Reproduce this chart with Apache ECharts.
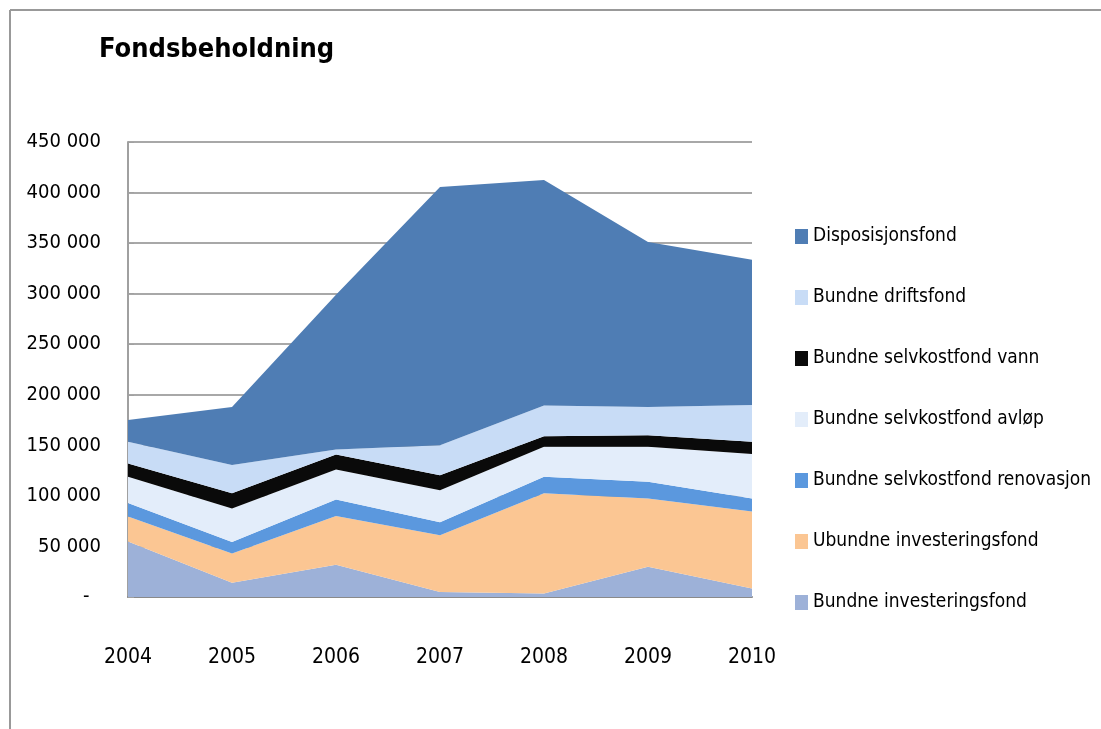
<!DOCTYPE html>
<html>
<head>
<meta charset="utf-8">
<script src="https://cdn.jsdelivr.net/npm/echarts@6/dist/echarts.min.js"></script>
<style>
  html, body { margin: 0; padding: 0; background: #fff; }
  #main { width: 1101px; height: 729px; }
</style>
</head>
<body>
<div id="main"></div>
<script>
var years = ['2004', '2005', '2006', '2007', '2008', '2009', '2010'];
var yTicks = [0, 50000, 100000, 150000, 200000, 250000, 300000, 350000, 400000, 450000];
// stacked from bottom to top
var bundneInvest = [55000, 14000, 32000, 5000, 3500, 30000, 8500];
var ubundneInvest = [24500, 29000, 48000, 56000, 99000, 67500, 76000];
var renovasjon = [13500, 11500, 16500, 13000, 16500, 16500, 13000];
var avlop = [26000, 33000, 29500, 31500, 29500, 34500, 44000];
var vann = [13000, 15000, 15000, 15000, 10500, 11500, 12000];
var drifts = [21500, 28000, 5000, 29500, 30500, 28000, 36500];
var dispo = [21500, 57500, 153000, 255500, 223000, 163000, 143500];

var FONT = '"Liberation Sans Narrow", "DejaVu Sans Condensed", "Noto Sans", sans-serif';

var chart = echarts.init(document.getElementById('main'));

function area(name, data, color) {
  return {
    name: name,
    type: 'line',
    stack: 'total',
    data: data,
    showSymbol: false,
    symbol: 'none',
    lineStyle: { width: 0, color: color },
    itemStyle: { color: color },
    areaStyle: { color: color, opacity: 1 },
    emphasis: { disabled: true }
  };
}

var option = {
  animation: false,
  backgroundColor: '#fff',
  title: {
    text: 'Fondsbeholdning',
    left: 94,
    top: 31,
    textStyle: { fontFamily: FONT, fontSize: 27, fontWeight: 'bold', color: '#000' }
  },
  graphic: [
    { type: 'line', shape: { x1: 10, y1: 10, x2: 1101, y2: 10 }, style: { stroke: '#999', lineWidth: 2 } },
    { type: 'line', shape: { x1: 10, y1: 10, x2: 10, y2: 729 }, style: { stroke: '#999', lineWidth: 2 } }
  ],
  legend: {
    orient: 'vertical',
    left: 790,
    top: 222,
    itemWidth: 13,
    itemHeight: 15,
    itemGap: 42,
    icon: 'rect',
    textStyle: { fontFamily: FONT, fontSize: 19, color: '#000' },
    data: ['Disposisjonsfond', 'Bundne driftsfond', 'Bundne selvkostfond vann',
      'Bundne selvkostfond avløp', 'Bundne selvkostfond renovasjon',
      'Ubundne investeringsfond', 'Bundne investeringsfond']
  },
  grid: { left: 128, right: 349, top: 142, bottom: 132, containLabel: false },
  xAxis: {
    type: 'category',
    data: years,
    boundaryGap: false,
    axisLine: { lineStyle: { color: '#8a8a8a', width: 2 } },
    axisTick: { show: false },
    axisLabel: { fontFamily: FONT, fontSize: 21, color: '#000', margin: 50 }
  },
  yAxis: {
    type: 'value',
    min: 0,
    max: 450000,
    interval: 50000,
    axisLine: { show: true, lineStyle: { color: '#a0a0a0', width: 2 } },
    axisTick: { show: true, inside: true, length: 6, lineStyle: { color: '#a0a0a0' } },
    splitLine: { lineStyle: { color: '#a8a8a8', width: 2 } },
    axisLabel: {
      fontFamily: FONT, fontSize: 20, color: '#000', margin: 27,
      formatter: function (v) {
        if (v === 0) return '-  ';
        return String(v / 1000) + ' 000';
      }
    }
  },
  series: [
    area('Bundne investeringsfond', bundneInvest, '#9db1d8'),
    area('Ubundne investeringsfond', ubundneInvest, '#fbc693'),
    area('Bundne selvkostfond renovasjon', renovasjon, '#5b98de'),
    area('Bundne selvkostfond avløp', avlop, '#e3edfa'),
    area('Bundne selvkostfond vann', vann, '#0a0a0a'),
    area('Bundne driftsfond', drifts, '#c8dcf6'),
    area('Disposisjonsfond', dispo, '#4f7db4')
  ]
};

chart.setOption(option);
</script>
</body>
</html>
